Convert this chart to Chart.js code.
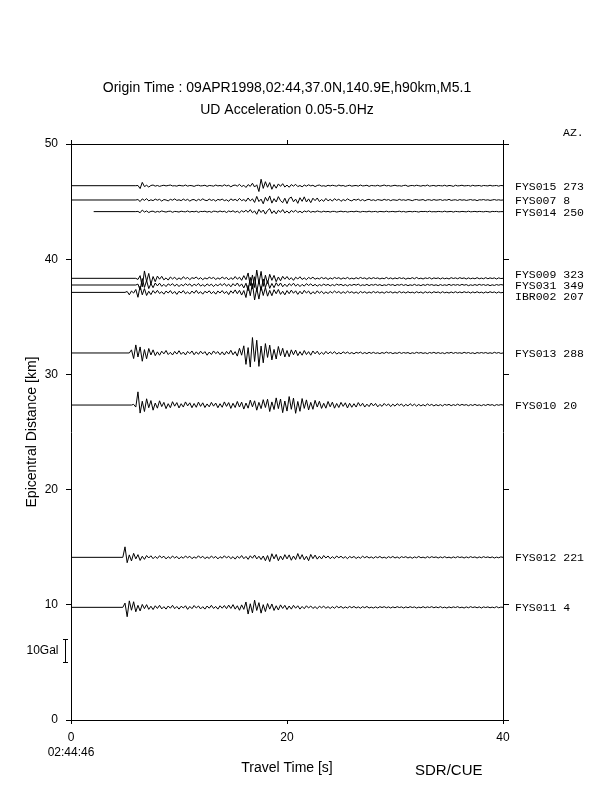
<!DOCTYPE html>
<html>
<head>
<meta charset="utf-8">
<script src="https://cdn.jsdelivr.net/npm/chart.js@4.4.1/dist/chart.umd.min.js"></script>
<style>
  html, body { margin: 0; padding: 0; background: #fff; }
  canvas { display: block; }
</style>
</head>
<body>
<canvas id="record-section" width="612" height="792"></canvas>
<script>
// Record section - UD acceleration, 09APR1998 M5.1

const stations  = ['FYS015', 'FYS007', 'FYS014', 'FYS009', 'FYS031', 'IBR002', 'FYS013', 'FYS010', 'FYS012', 'FYS011'];
const azimuths  = [273, 8, 250, 323, 349, 207, 288, 20, 221, 4];
const distances = [46.38, 45.14, 44.13, 38.34, 37.76, 37.12, 31.86, 27.34, 14.12, 9.78]; // km
const traceStart = [0, 0, 2.1, 0, 0, 0, 0, 0, 0, 0];                 // s, where each trace begins
const onsetTimes = [6, 6, 6, 6, 6, 5, 5.4, 5.6, 4.8, 4.8];            // s, first wiggle sample
const sampleStep = 0.2;                                              // s between samples
const traceEnd = 40.2;                                               // s

const timeTicks = [0, 20, 40];
const distanceTicks = [0, 10, 20, 30, 40, 50];

// amplitudes in Gal, one row per 2 s (row start noted)
const ampFYS015 = [
  0, 0.1, -1.3, 1.5, -0.4, 0.2, -0.6, 0.1, 0.3, -0.2,      // 6
  0.1, -0.3, 0, 0.2, -0.1, 0.1, 0.3, -0.1, 0, -0.2,        // 8
  0.2, 0, -0.1, 0.3, -0.2, 0.1, 0, -0.3, 0.1, 0.2,         // 10
  -0.1, 0, 0.2, -0.3, 0.1, 0, -0.2, 0.3, -0.1, 0.1,        // 12
  -0.2, 0.4, -0.1, 0.2, -0.5, 0.1, 0.3, -0.2, 0.6, -0.4,   // 14
  0.2, -0.8, 0.5, -0.3, 1.1, -0.6, 0.4, -2.6, 2.9, -1.2,   // 16
  1.8, -0.7, 1.4, -1.6, 0.5, -1.1, 0.8, -0.3, 0.9, -0.6,   // 18
  0.3, -0.7, 0.5, -0.2, 0.6, -0.4, 0.1, -0.5, 0.3, -0.2,   // 20
  0.4, -0.1, 0.2, -0.4, 0.1, 0.3, -0.2, 0, -0.3, 0.2,      // 22
  -0.1, 0.2, 0, -0.2, 0.3, -0.1, 0.1, -0.3, 0, 0.2,        // 24
  -0.2, 0, 0.1, -0.2, 0.3, -0.1, 0, 0.2, -0.3, 0.1,        // 26
  0, -0.1, 0.2, -0.2, 0, 0.3, -0.1, 0.1, -0.2, 0,          // 28
  0.2, -0.1, 0, -0.2, 0.1, 0.2, -0.3, 0, 0.1, -0.1,        // 30
  0.2, 0, -0.2, 0.1, -0.1, 0.3, -0.2, 0, 0.1, -0.2,        // 32
  0.1, 0, -0.1, 0.2, -0.2, 0.1, 0, -0.3, 0.2, -0.1,        // 34
  0, 0.2, -0.1, 0, 0.1, -0.2, 0.2, -0.1, 0, 0.1,           // 36
  -0.2, 0.1, 0, -0.1, 0.2, -0.1, 0, 0.1, -0.2, 0.1,        // 38
  0
];
const ampFYS007 = [
  0, 0.2, -0.7, 0.5, -0.2, 0.6, -0.4, 0.1, -0.3, 0.4,
  -0.1, 0.3, -0.5, 0.2, 0, -0.4, 0.3, -0.1, 0.5, -0.2,
  0.1, -0.3, 0.4, -0.2, 0.3, -0.5, 0.1, 0.2, -0.4, 0.3,
  -0.2, 0.5, -0.1, -0.3, 0.4, -0.2, 0.2, -0.5, 0.3, -0.1,
  0.4, -0.3, 0.1, -0.6, 0.5, -0.2, 0.3, -0.4, 0.7, -0.3,
  0.2, -0.6, 0.9, -0.4, 0.5, -1.1, 1.6, -0.7, 0.4, -1.7,
  1.2, -0.5, 1.8, -1.4, 0.6, -0.9, 1.5, -0.3, -1.2, 0.8,
  -1.6, 0.7, 1.3, -0.8, 0.4, -1.5, 1.0, -0.6, 1.4, -0.9,
  0.5, -1.2, 0.8, -0.3, 0.9, -0.7, 0.2, -0.6, 0.7, -0.4,
  0.3, -0.5, 0.6, -0.2, 0.4, -0.6, 0.2, -0.3, 0.5, -0.1,
  -0.4, 0.3, -0.1, 0.4, -0.3, 0.2, -0.4, 0.1, 0.3, -0.2,
  0.1, -0.3, 0.2, 0, -0.2, 0.3, -0.1, 0.2, -0.3, 0.1,
  0, -0.2, 0.3, -0.1, 0.1, -0.2, 0.2, 0, -0.3, 0.1,
  0.2, -0.1, 0, 0.2, -0.3, 0.1, 0.1, -0.2, 0.2, -0.1,
  0, 0.2, -0.2, 0.1, -0.1, 0.3, -0.2, 0, 0.1, -0.2,
  0.2, -0.1, 0.1, -0.2, 0, 0.2, -0.1, 0.1, -0.3, 0.1,
  0, 0.2, -0.1, 0.1, -0.2, 0, 0.2, -0.1, 0.1, -0.1,
  0
];
const ampFYS014 = [
  0, 0.1, -0.5, 0.7, -0.2, 0.3, -0.4, 0.1, 0.2, -0.3,
  0.1, -0.2, 0.3, 0, -0.2, 0.1, 0.2, -0.3, 0.1, 0,
  -0.2, 0.2, 0, -0.1, 0.3, -0.2, 0.1, -0.1, 0.2, -0.3,
  0.1, 0, 0.2, -0.2, 0.1, -0.3, 0.2, 0.1, -0.2, 0.3,
  -0.1, 0.2, -0.4, 0.3, -0.1, 0.4, -0.3, 0.2, -0.5, 0.4,
  -0.2, 0.6, -0.3, 0.9, -0.5, 0.3, -1.2, 1.0, -0.4, 0.7,
  -1.1, 0.5, 1.3, -0.8, 0.4, -1.0, 0.6, -0.3, 0.9, -0.6,
  0.3, -0.7, 0.5, -0.2, 0.6, -0.4, 0.2, -0.5, 0.3, -0.1,
  0.4, -0.3, 0.1, -0.2, 0.3, 0, -0.2, 0.2, -0.1, 0.1,
  -0.2, 0.1, 0.1, -0.2, 0, 0.2, -0.1, 0.1, -0.2, 0,
  0.1, -0.1, 0.2, 0, -0.2, 0.1, 0, -0.1, 0.2, -0.1,
  0, 0.1, -0.2, 0.1, 0, -0.1, 0.2, -0.1, 0, 0.1,
  -0.1, 0, 0.2, -0.1, 0.1, -0.2, 0, 0.1, -0.1, 0.1,
  0, -0.2, 0.1, 0, 0.1, -0.1, 0.2, -0.1, 0, -0.1,
  0.1, 0, -0.1, 0.2, -0.1, 0, 0.1, -0.2, 0.1, 0,
  -0.1, 0.1, 0, -0.1, 0.2, -0.1, 0, 0.1, -0.1, 0.1,
  0, -0.1, 0.1, 0, -0.2, 0.1, 0, 0.1, -0.1, 0,
  0
];
const ampFYS009 = [
  0, -0.5, 1.2, -3.8, 3.3, -1.4, 2.2, -2.6, 0.8, -1.5,
  1.0, -0.4, 0.9, -0.7, 0.2, -0.8, 0.6, -0.3, 0.5, -0.6,
  0.2, -0.5, 0.7, -0.2, 0.4, -0.6, 0.3, -0.1, 0.6, -0.4,
  0.3, -0.6, 0.2, -0.3, 0.5, -0.1, 0.4, -0.5, 0.2, -0.4,
  0.6, -0.2, 0.4, -0.7, 0.3, -0.5, 0.8, -0.4, 0.5, -0.9,
  1.2, -0.6, 2.4, -3.3, 1.5, -4.1, 3.7, -2.2, 3.1, -3.6,
  1.4, -2.3, 1.8, -0.9, 1.3, -1.5, 0.6, -1.1, 0.9, -0.4,
  0.8, -0.6, 0.3, -0.9, 0.5, -0.3, 0.7, -0.5, 0.2, -0.6,
  0.4, -0.2, 0.5, -0.4, 0.1, -0.3, 0.4, -0.2, 0.3, -0.5,
  0.2, -0.3, 0.4, -0.1, 0.3, -0.4, 0.2, -0.2, 0.4, -0.3,
  0.1, -0.3, 0.3, -0.2, 0.4, -0.1, 0.2, -0.4, 0.3, -0.2,
  0.3, -0.1, 0.2, -0.3, 0.1, -0.2, 0.4, -0.2, 0.2, -0.3,
  0.2, -0.2, 0.3, -0.1, 0.2, -0.4, 0.1, -0.2, 0.3, -0.2,
  0.4, -0.2, 0.1, -0.3, 0.2, -0.1, 0.3, -0.3, 0.2, -0.1,
  0.2, -0.3, 0.2, -0.2, 0.1, -0.3, 0.3, -0.1, 0.2, -0.2,
  0.3, -0.1, 0.2, -0.3, 0.2, -0.2, 0.1, -0.2, 0.3, -0.2,
  0.1, -0.2, 0.3, -0.2, 0.2, -0.1, 0.2, -0.3, 0.2, -0.1,
  0
];
const ampFYS031 = [
  0, 0.4, -2.2, 2.9, -1.1, 2.0, -1.6, 0.6, -1.2, 0.9,
  -0.4, 0.8, -0.6, 0.3, -0.7, 0.5, -0.2, 0.6, -0.5, 0.4,
  -0.7, 0.3, -0.4, 0.6, -0.2, 0.5, -0.6, 0.4, -0.3, 0.7,
  -0.5, 0.2, -0.6, 0.5, -0.3, 0.4, -0.7, 0.3, -0.4, 0.6,
  -0.3, 0.7, -0.5, 0.4, -0.8, 0.6, -0.4, 0.9, -0.6, 0.5,
  -1.3, 0.8, -2.6, 3.4, -1.7, 3.7, -2.9, 1.8, -2.4, 2.7,
  -1.1, 1.9, -1.5, 0.7, -1.2, 1.0, -0.5, 0.9, -0.8, 0.4,
  -0.7, 0.6, -0.3, 0.8, -0.5, 0.4, -0.7, 0.3, -0.5, 0.6,
  -0.2, 0.5, -0.4, 0.3, -0.5, 0.2, -0.3, 0.4, -0.2, 0.3,
  -0.4, 0.2, -0.3, 0.4, -0.1, 0.3, -0.3, 0.2, -0.4, 0.2,
  -0.2, 0.3, -0.1, 0.4, -0.3, 0.1, -0.2, 0.3, -0.3, 0.2,
  -0.1, 0.3, -0.2, 0.2, -0.3, 0.1, -0.2, 0.3, -0.1, 0.2,
  -0.3, 0.2, -0.1, 0.3, -0.2, 0.2, -0.3, 0.1, -0.2, 0.3,
  -0.2, 0.1, -0.3, 0.2, -0.2, 0.3, -0.1, 0.2, -0.2, 0.1,
  -0.3, 0.2, -0.2, 0.1, -0.2, 0.3, -0.2, 0.2, -0.1, 0.2,
  -0.2, 0.3, -0.1, 0.2, -0.3, 0.1, -0.2, 0.2, -0.2, 0.3,
  -0.1, 0.2, -0.2, 0.2, -0.3, 0.1, -0.2, 0.2, -0.1, 0.2,
  0
];
const ampIBR002 = [
  0, 0.4, -1.1, 0.6, -0.3,                                 // 5
  1.3, -2.2, 2.8, -1.1, 1.7, -1.4, 0.5, -1.0, 0.8, -0.4,   // 6
  0.9, -0.5, 0.3, -0.8, 0.6, -0.3, 0.8, -0.6, 0.4, -0.9,
  0.5, -0.3, 0.8, -0.6, 0.2, -0.7, 0.6, -0.4, 0.9, -0.5,
  0.3, -0.8, 0.5, -0.2, 0.7, -0.6, 0.4, -0.8, 0.6, -0.3,
  0.8, -0.5, 0.4, -1.0, 0.7, -0.4, 1.1, -0.6, 0.9, -1.2,
  0.8, -2.3, 3.1, -1.5, 3.9, -3.4, 1.8, -3.0, 2.6, -1.4,
  2.2, -1.7, 0.9, -1.5, 1.2, -0.6, 1.3, -0.9, 0.5, -1.1,
  0.8, -0.6, 1.0, -0.4, 0.7, -0.9, 0.5, -0.7, 0.9, -0.3,
  0.6, -0.8, 0.3, -0.6, 0.7, -0.4, 0.5, -0.6, 0.2, -0.5,
  0.4, -0.3, 0.6, -0.2, 0.4, -0.5, 0.3, -0.4, 0.5, -0.2,
  0.3, -0.4, 0.2, -0.5, 0.4, -0.2, 0.3, -0.4, 0.2, -0.3,
  0.4, -0.2, 0.3, -0.3, 0.2, -0.4, 0.3, -0.1, 0.3, -0.3,
  0.2, -0.3, 0.4, -0.2, 0.2, -0.3, 0.3, -0.2, 0.1, -0.3,
  0.3, -0.2, 0.2, -0.4, 0.3, -0.2, 0.2, -0.3, 0.3, -0.1,
  0.2, -0.3, 0.3, -0.2, 0.1, -0.3, 0.2, -0.2, 0.3, -0.2,
  0.2, -0.2, 0.3, -0.1, 0.2, -0.3, 0.2, -0.2, 0.3, -0.2,
  0.1, -0.3, 0.2, -0.2, 0.3, -0.1, 0.2, -0.3, 0.2, -0.2,
  0
];
const ampFYS013 = [
  0, 1.4, -2.5,                                            // 5.4
  3.6, -1.8, 2.7, -3.7, 1.5, -2.6, 2.0, -0.9, 1.4, -1.2,   // 6
  0.5, -1.0, 0.8, -0.4, 1.1, -0.7, 0.3, -0.9, 0.7, -0.5,
  1.0, -0.6, 0.4, -0.9, 0.7, -0.3, 0.9, -0.8, 0.5, -0.6,
  0.8, -0.4, 0.6, -1.0, 0.4, -0.7, 0.9, -0.3, 0.6, -0.8,
  0.5, -0.9, 0.7, -0.5, 1.2, -0.8, 0.6, -1.4, 2.1, -1.0,
  3.2, -5.1, 2.4, -6.3, 6.9, -3.8, 5.7, -6.0, 3.1, -4.4,
  4.2, -2.0, 3.5, -3.1, 1.6, -2.7, 2.9, -1.2, 2.1, -1.8,
  1.1, -1.7, 1.4, -0.8, 1.3, -1.2, 0.6, -1.0, 1.1, -0.7,
  0.6, -1.0, 0.9, -0.4, 0.8, -0.7, 0.3, -0.6, 0.7, -0.4,
  0.5, -0.3, 0.6, -0.5, 0.2, -0.4, 0.5, -0.2, 0.4, -0.3,
  0.2, -0.4, 0.3, -0.1, 0.4, -0.3, 0.2, -0.3, 0.3, -0.2,
  0.3, -0.2, 0.1, -0.3, 0.2, -0.2, 0.4, -0.1, 0.2, -0.3,
  0.1, -0.2, 0.3, -0.2, 0.2, -0.1, 0.2, -0.3, 0.1, -0.2,
  0.3, -0.1, 0.2, -0.2, 0.1, -0.3, 0.2, -0.1, 0.3, -0.2,
  0.2, -0.2, 0.1, -0.3, 0.2, -0.1, 0.3, -0.2, 0.2, -0.1,
  0.1, -0.2, 0.3, -0.1, 0.2, -0.2, 0.1, -0.3, 0.2, -0.1,
  0.2, -0.1, 0.2, -0.2, 0.1, -0.2, 0.3, -0.1, 0.2, -0.2,
  0
];
const ampFYS010 = [
  0, 0.3,                                                  // 5.6
  -0.9, 5.9, -3.6, 1.7, -2.9, 2.8, -1.2, 2.0, -2.3, 0.9,   // 6
  -1.4, 1.9, -0.7, 1.2, -1.6, 0.6, -1.2, 1.5, -0.5, 1.1,
  -1.3, 0.6, -0.9, 1.4, -0.4, 1.0, -1.2, 0.7, -1.0, 1.3,
  -0.6, 1.0, -1.1, 0.5, -0.8, 1.2, -0.5, 0.9, -1.2, 0.6,
  -1.0, 1.4, -0.6, 1.1, -1.5, 0.8, -1.1, 1.6, -0.9, 1.3,
  -1.8, 0.9, -1.4, 2.2, -0.8, 1.9, -2.3, 1.2, -1.6, 2.4,
  -1.1, 2.6, -2.9, 1.4, -2.0, 3.2, -1.6, 2.7, -3.4, 1.8,
  -2.7, 3.8, -1.9, 3.1, -3.7, 1.6, -2.8, 2.9, -1.5, 2.3,
  -2.2, 1.2, -1.9, 2.1, -0.9, 1.7, -1.5, 0.8, -1.4, 1.6,
  -0.8, 1.3, -1.4, 0.7, -1.1, 1.2, -0.6, 1.0, -1.3, 0.8,
  -1.0, 0.6, -0.9, 1.1, -0.5, 0.8, -0.9, 0.4, -0.7, 0.9,
  -0.4, 0.7, -0.8, 0.3, -0.6, 0.7, -0.3, 0.5, -0.7, 0.4,
  -0.5, 0.6, -0.2, 0.5, -0.6, 0.3, -0.4, 0.6, -0.3, 0.4,
  -0.5, 0.3, -0.4, 0.2, -0.4, 0.5, -0.2, 0.3, -0.4, 0.2,
  -0.3, 0.2, -0.4, 0.3, -0.1, 0.3, -0.3, 0.2, -0.2, 0.4,
  -0.2, 0.3, -0.1, 0.2, -0.3, 0.2, -0.2, 0.3, -0.2, 0.1,
  -0.3, 0.2, -0.2, 0.3, -0.1, 0.2, -0.3, 0.2, -0.1, 0.2,
  0
];
const ampFYS012 = [
  0,                                                       // 4.8
  4.7, -2.4, 1.1, -1.6, 1.8,                               // 5
  -0.7, 1.2, -1.4, 0.5, -0.9, 0.8, -0.3, 0.7, -0.6, 0.4,   // 6
  -0.5, 0.7, -0.2, 0.5, -0.7, 0.3, -0.5, 0.6, -0.3, 0.4,
  -0.7, 0.3, -0.4, 0.6, -0.2, 0.5, -0.6, 0.2, -0.4, 0.7,
  -0.3, 0.5, -0.6, 0.2, -0.5, 0.6, -0.3, 0.4, -0.7, 0.3,
  -0.4, 0.7, -0.3, 0.5, -0.6, 0.3, -0.8, 0.5, -0.4, 0.8,
  -0.6, 0.4, -0.9, 0.7, -0.4, 1.0, -0.7, 0.5, -1.0, 0.6,
  -1.5, 0.8, -1.9, 1.6, -0.7, 1.3, -1.5, 0.6, -1.1, 1.2,
  -0.7, 1.1, -1.3, 0.6, -1.0, 1.7, -0.8, 1.2, -1.1, 0.5,
  -1.5, 1.3, -0.6, 1.0, -0.8, 0.5, -0.7, 0.8, -0.3, 0.6,
  -0.6, 0.3, -0.5, 0.6, -0.2, 0.5, -0.4, 0.3, -0.6, 0.4,
  -0.2, 0.4, -0.5, 0.2, -0.4, 0.5, -0.2, 0.4, -0.3, 0.2,
  -0.4, 0.3, -0.2, 0.4, -0.3, 0.1, -0.4, 0.3, -0.2, 0.4,
  -0.3, 0.2, -0.4, 0.3, -0.1, 0.3, -0.3, 0.2, -0.4, 0.2,
  -0.2, 0.4, -0.2, 0.1, -0.3, 0.3, -0.2, 0.3, -0.1, 0.2,
  -0.3, 0.2, -0.2, 0.3, -0.2, 0.1, -0.3, 0.2, -0.2, 0.3,
  -0.1, 0.2, -0.3, 0.2, -0.2, 0.3, -0.1, 0.2, -0.3, 0.2,
  -0.2, 0.3, -0.1, 0.2, -0.2, 0.2, -0.3, 0.1, -0.2, 0.2,
  0
];
const ampFYS011 = [
  0,                                                       // 4.8
  1.9, -4.2, 2.9, -1.3, 2.5,                               // 5
  -2.0, 0.9, -1.6, 1.3, -0.6, 1.2, -0.9, 0.5, -1.0, 0.7,   // 6
  -0.5, 0.9, -0.7, 0.3, -0.8, 0.6, -0.4, 0.9, -0.6, 0.4,
  -0.8, 0.5, -0.3, 0.7, -0.9, 0.4, -0.6, 0.8, -0.3, 0.6,
  -0.7, 0.3, -0.8, 0.6, -0.4, 0.9, -0.5, 0.4, -0.8, 0.7,
  -0.4, 0.8, -0.6, 1.0, -0.5, 1.2, -0.8, 0.7, -1.3, 1.1,
  -0.9, 2.4, -3.0, 1.6, -2.5, 3.2, -1.4, 2.1, -2.6, 1.2,
  -1.9, 1.7, -0.8, 1.5, -1.4, 0.7, -1.2, 1.1, -0.5, 0.9,
  -1.0, 0.6, -0.8, 0.9, -0.4, 0.7, -0.8, 0.4, -0.6, 0.7,
  -0.3, 0.6, -0.5, 0.3, -0.6, 0.5, -0.2, 0.5, -0.4, 0.3,
  -0.5, 0.3, -0.4, 0.5, -0.2, 0.4, -0.4, 0.2, -0.3, 0.4,
  -0.2, 0.4, -0.3, 0.2, -0.4, 0.3, -0.2, 0.4, -0.3, 0.1,
  -0.3, 0.2, -0.3, 0.3, -0.1, 0.3, -0.2, 0.2, -0.3, 0.2,
  -0.2, 0.3, -0.1, 0.2, -0.3, 0.2, -0.2, 0.3, -0.1, 0.2,
  -0.3, 0.1, -0.2, 0.3, -0.2, 0.2, -0.1, 0.3, -0.2, 0.2,
  -0.2, 0.3, -0.2, 0.1, -0.3, 0.2, -0.2, 0.2, -0.1, 0.3,
  -0.2, 0.1, -0.3, 0.2, -0.2, 0.3, -0.1, 0.2, -0.2, 0.2,
  -0.3, 0.2, -0.1, 0.2, -0.2, 0.1, -0.2, 0.3, -0.2, 0.1,
  0
];
const amplitudes = [ampFYS015, ampFYS007, ampFYS014, ampFYS009, ampFYS031,
                    ampIBR002, ampFYS013, ampFYS010, ampFYS012, ampFYS011];

const gainKmPerGal = 0.194;   // 10 Gal bar = 1.94 km on the distance axis
const scaleBarGal = 10;
const scaleBarBase = 5.06;    // km, lower end of the scale bar

Chart.defaults.font.family = '"Liberation Sans", Arial, sans-serif';
Chart.defaults.color = '#000';

const datasets = stations.map((name, i) => {
  const pts = [{ x: traceStart[i], y: distances[i] }];
  amplitudes[i].forEach((a, k) => {
    pts.push({ x: onsetTimes[i] + k * sampleStep, y: distances[i] + a * gainKmPerGal });
  });
  pts.push({ x: traceEnd, y: distances[i] });
  return {
    label: name,
    data: pts,
    borderColor: '#000',
    borderWidth: 1,
    pointRadius: 0,
    tension: 0,
    clip: false
  };
});

// keep station labels apart when traces sit close together
function spreadLabels(ys, minGap) {
  const out = ys.slice();
  let groups = out.map((v, i) => [i]);
  let merged = true;
  while (merged) {
    merged = false;
    for (let g = 0; g < groups.length - 1; g++) {
      const a = groups[g], b = groups[g + 1];
      if (out[b[0]] - out[a[a.length - 1]] < minGap) {
        const grp = a.concat(b);
        const mean = grp.reduce((s, k) => s + ys[k], 0) / grp.length;
        grp.forEach((k, j) => { out[k] = mean + (j - (grp.length - 1) / 2) * minGap; });
        groups.splice(g, 2, grp);
        merged = true;
        break;
      }
    }
  }
  return out;
}

// texts and the amplitude scale bar
const annotations = {
  id: 'annotations',
  afterDraw(chart) {
    const { ctx, scales: { x, y } } = chart;
    ctx.save();
    ctx.fillStyle = '#000';
    ctx.strokeStyle = '#000';
    ctx.textBaseline = 'middle';

    ctx.font = '11.5px "Liberation Mono", "Courier New", monospace';
    ctx.textAlign = 'left';
    const labelY = spreadLabels(distances.map(d => y.getPixelForValue(d) + 1), 11);
    stations.forEach((s, i) => {
      ctx.fillText(s + ' ' + azimuths[i], x.right + 12, labelY[i]);
    });
    ctx.fillText('AZ.', x.right + 60, 133);

    // scale bar
    const bx = 65.5;
    const y0 = Math.round(y.getPixelForValue(scaleBarBase)) + 0.5;
    const y1 = Math.round(y.getPixelForValue(scaleBarBase + scaleBarGal * gainKmPerGal)) + 0.5;
    ctx.lineWidth = 1;
    ctx.beginPath();
    ctx.moveTo(bx, y0); ctx.lineTo(bx, y1);
    ctx.moveTo(bx - 2.5, y0); ctx.lineTo(bx + 2.5, y0);
    ctx.moveTo(bx - 2.5, y1); ctx.lineTo(bx + 2.5, y1);
    ctx.stroke();

    ctx.font = '12px "Liberation Sans", Arial, sans-serif';
    ctx.textAlign = 'right';
    ctx.fillText(scaleBarGal + 'Gal', 58.5, (y0 + y1) / 2);

    ctx.textAlign = 'center';
    ctx.fillText('02:44:46', x.getPixelForValue(0), 753);

    ctx.font = '15px "Liberation Sans", Arial, sans-serif';
    ctx.textAlign = 'left';
    ctx.fillText('SDR/CUE', 415, 771);
    ctx.restore();
  }
};

const axisBase = {
  type: 'linear',
  grid: { drawOnChartArea: false, tickLength: 4, color: '#000', lineWidth: 1 },
  border: { display: true, color: '#000', width: 1 }
};

const ctx = document.getElementById('record-section').getContext('2d');

new Chart(ctx, {
  type: 'line',
  data: { datasets },
  plugins: [annotations],
  options: {
    responsive: false,
    animation: false,
    devicePixelRatio: 1,
    events: [],
    layout: { padding: 0 },
    plugins: {
      legend: { display: false },
      tooltip: { enabled: false },
      title: {
        display: true,
        fullSize: false,
        text: 'Origin Time : 09APR1998,02:44,37.0N,140.9E,h90km,M5.1',
        font: { size: 14, weight: 'normal' },
        color: '#000',
        padding: { top: 79.6, bottom: 0 }
      },
      subtitle: {
        display: true,
        fullSize: false,
        text: 'UD Acceleration 0.05-5.0Hz',
        font: { size: 14, weight: 'normal' },
        color: '#000',
        padding: { top: 5.7, bottom: 0 }
      }
    },
    scales: {
      x: {
        ...axisBase,
        position: 'bottom',
        min: 0, max: 40,
        afterBuildTicks: s => { s.ticks = timeTicks.map(v => ({ value: v })); },
        ticks: { font: { size: 12 }, padding: 6, maxRotation: 0, autoSkip: false },
        title: { display: true, text: 'Travel Time [s]', font: { size: 14 }, padding: { top: 0, bottom: 15.6 } },
        afterFit: s => { s.height = 72; }
      },
      xTop: {
        ...axisBase,
        position: 'top',
        min: 0, max: 40,
        afterBuildTicks: s => { s.ticks = timeTicks.map(v => ({ value: v })); },
        ticks: { display: false },
        afterFit: s => { s.height = 25.1; }
      },
      y: {
        ...axisBase,
        position: 'left',
        min: 0, max: 50,
        afterBuildTicks: s => { s.ticks = distanceTicks.map(v => ({ value: v })); },
        grid: { ...axisBase.grid, tickLength: 5 },
        ticks: { font: { size: 12 }, padding: 8 },
        title: { display: true, text: 'Epicentral Distance [km]', font: { size: 14 }, padding: { top: 23.6, bottom: 0 } },
        afterFit: s => { s.width = 71; }
      },
      yRight: {
        ...axisBase,
        position: 'right',
        min: 0, max: 50,
        afterBuildTicks: s => { s.ticks = distanceTicks.map(v => ({ value: v })); },
        grid: { ...axisBase.grid, tickLength: 6 },
        ticks: { display: false },
        afterFit: s => { s.width = 109; }
      }
    }
  }
});
</script>
</body>
</html>
